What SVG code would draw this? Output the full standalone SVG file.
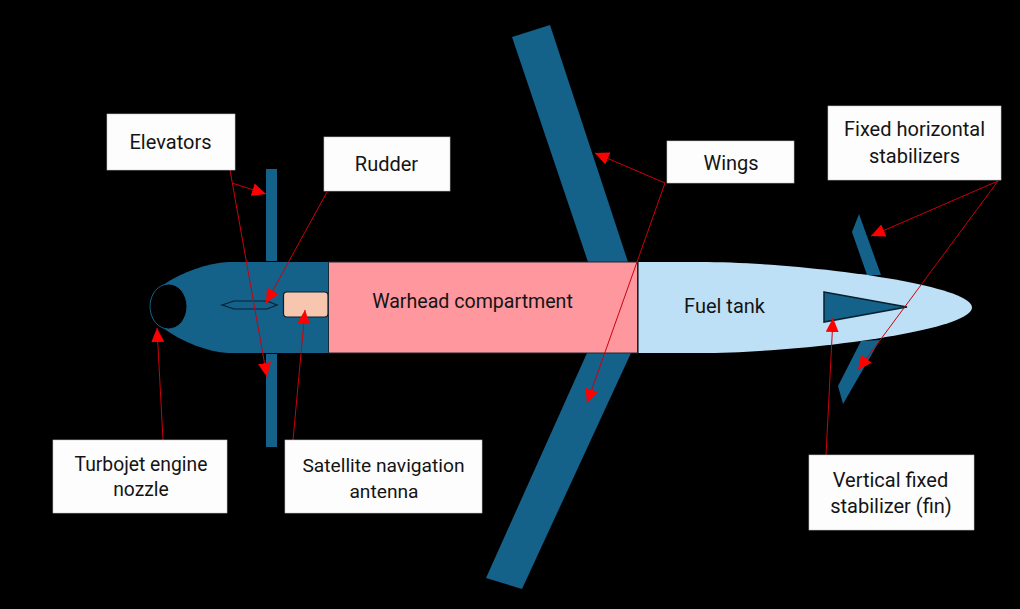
<svg xmlns="http://www.w3.org/2000/svg" width="1020" height="609" viewBox="0 0 1020 609">
<style>
.surface{fill:#14618a}
.box{fill:#fdfdfd;stroke:#c8c8c8;stroke-width:.6}
.label{font-family:"Roboto","Liberation Sans",sans-serif;font-size:20px;fill:#141414;text-anchor:middle}
.lead{stroke:#cc000c;stroke-width:1;fill:none}
.head{fill:#ff0000}
.edge{stroke:#102030;stroke-width:1.200}
</style>
<defs>
<marker id="tip" markerUnits="userSpaceOnUse" markerWidth="15" markerHeight="13" refX="14" refY="6.500" orient="auto">
<path class="head" d="M0 0L14 6.500L0 13Z"/>
</marker>
</defs>
<rect width="1020" height="609" fill="#000"/>
<g id="elevators-surface">
<rect class="surface" x="266" y="169" width="11" height="92"/>
<rect class="surface" x="266" y="354" width="11" height="93"/>
</g>
<g id="wings-surface">
<polygon class="surface" points="512,37 550,25 628,262 588,262"/>
<polygon class="surface" points="587,353 631,353 522,589 486,578"/>
</g>
<g id="stabilizers-surface">
<polygon class="surface" points="859,214 852,232 867,275 881,275"/>
<polygon class="surface" points="861,341 880,340 843,404 838,386"/>
</g>
<g id="nose">
<path class="surface" d="M328.500 262H228C208 263 182 272 163 285L163 328C182 342 208 352 228 353H328.500Z"/>
<ellipse cx="168.500" cy="306.500" rx="18.500" ry="22.500" fill="#000" stroke="#14618a" stroke-width="1"/>
</g>
<g id="rudder">
<polygon points="222,305 234,301 267,301 277,305 267,309 234,309" fill="none" stroke="#07202e" stroke-width="1.200"/>
</g>
<g id="antenna">
<rect x="283.500" y="292" width="44.500" height="25" rx="3.500" fill="#f6c6ae" stroke="#07202e" stroke-width="1.200"/>
</g>
<g id="warhead">
<rect x="328.500" y="262" width="309" height="91" fill="#ff979f" stroke="#1a2a34" stroke-width="1"/>
<text class="label" x="472.500" y="308" style="font-size:19.600px">Warhead compartment</text>
</g>
<g id="fuel-tank">
<path d="M638 262H700C800 262 972 284 972 307.500C972 331 800 353 700 353H638Z" fill="#bee0f6"/>
<path d="M638 262V353" class="edge"/>
<text class="label" x="724.500" y="313">Fuel tank</text>
</g>
<g id="fin">
<polygon class="surface" points="824,292 907,307 824,322" stroke="#07202e" stroke-width="1.500"/>
</g>
<g id="connectors">
<path class="lead" marker-end="url(#tip)" d="M232 183L266 194"/>
<path class="lead" marker-end="url(#tip)" d="M230 170L267 377"/>
<path class="lead" marker-end="url(#tip)" d="M327 192L266 303"/>
<path class="lead" marker-end="url(#tip)" d="M163 440L157 328"/>
<path class="lead" marker-end="url(#tip)" d="M293 440L305 310"/>
<path class="lead" marker-end="url(#tip)" d="M665 183L595 153"/>
<path class="lead" marker-end="url(#tip)" d="M665 183L587 403"/>
<path class="lead" marker-end="url(#tip)" d="M998 181L871 236"/>
<path class="lead" marker-end="url(#tip)" d="M998 181L858 370"/>
<path class="lead" marker-end="url(#tip)" d="M826 455L833 318"/>
</g>
<g id="elevators"><rect class="box" x="107" y="114" width="128" height="56"/><text class="label" x="170.500" y="149">Elevators</text></g>
<g id="rudder-label"><rect class="box" x="324" y="137" width="126" height="54"/><text class="label" x="386.500" y="171">Rudder</text></g>
<g id="wings"><rect class="box" x="667" y="141" width="127" height="42"/><text class="label" x="731" y="170">Wings</text></g>
<g id="horizontal-stabilizers"><rect class="box" x="828" y="106" width="173" height="74"/><text class="label" x="914.500" y="136">Fixed horizontal</text><text class="label" x="914.500" y="163">stabilizers</text></g>
<g id="engine-nozzle"><rect class="box" x="53" y="440" width="174" height="73"/><text class="label" style="font-size:19.300px" x="141" y="471">Turbojet engine</text><text class="label" style="font-size:19.300px" x="141" y="496">nozzle</text></g>
<g id="navigation-antenna"><rect class="box" x="285" y="440" width="197" height="73"/><text class="label" style="font-size:19.200px" x="383.500" y="472">Satellite navigation</text><text class="label" style="font-size:19.200px" x="384" y="498">antenna</text></g>
<g id="vertical-stabilizer"><rect class="box" x="809" y="455" width="165" height="75"/><text class="label" x="890.500" y="487">Vertical fixed</text><text class="label" x="891" y="513">stabilizer (fin)</text></g>
</svg>
